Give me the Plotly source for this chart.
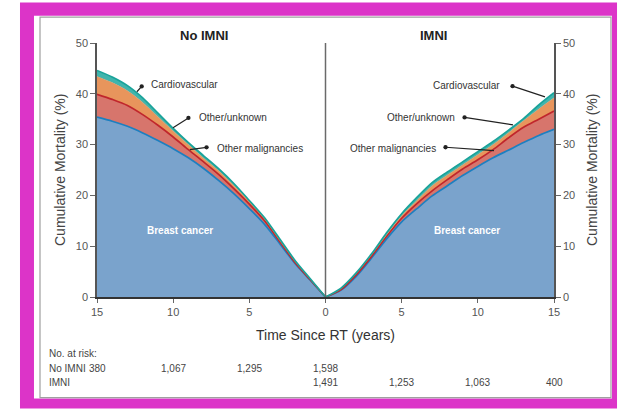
import plotly.graph_objects as go

# ---------------- data ----------------
years = [0, 1, 2, 3, 4, 5, 6, 7, 8, 9, 10, 11, 12, 13, 14, 15]

# No IMNI (cumulative tops of the stacked bands, %)
no_imni_breast = [0, 3.3, 6.6, 10.5, 14.3, 17.4, 20.3, 22.9, 25.3, 27.4, 29.2, 30.8, 32.3, 33.6, 34.6, 35.4]
no_imni_other_malig = [0, 3.4, 6.8, 10.9, 15.0, 18.3, 21.3, 24.1, 26.6, 29.0, 31.5, 33.8, 35.9, 37.7, 38.9, 39.9]
no_imni_other_unknown = [0, 3.5, 7.0, 11.1, 15.4, 18.8, 21.9, 24.8, 27.3, 30.0, 32.7, 35.5, 38.3, 40.6, 42.2, 43.4]
no_imni_cardio = [0, 3.6, 7.2, 11.4, 15.6, 19.0, 22.3, 25.2, 27.8, 30.4, 33.2, 36.2, 39.2, 41.6, 43.3, 44.6]

# IMNI
imni_breast = [0, 1.3, 4.0, 7.6, 11.4, 14.8, 17.4, 19.9, 21.9, 23.9, 25.7, 27.4, 28.9, 30.4, 31.8, 33.0]
imni_other_malig = [0, 1.4, 4.3, 7.9, 11.9, 15.5, 18.4, 20.9, 23.1, 25.2, 27.0, 29.0, 31.3, 33.4, 35.0, 36.6]
imni_other_unknown = [0, 1.6, 4.6, 8.2, 12.2, 16.0, 19.0, 21.9, 24.0, 26.0, 28.0, 30.0, 32.3, 34.7, 37.0, 39.2]
imni_cardio = [0, 1.7, 4.7, 8.4, 12.6, 16.4, 19.6, 22.5, 24.6, 26.6, 28.6, 30.6, 32.8, 35.1, 37.8, 40.2]

x_tick_vals = [-15, -10, -5, 0, 5, 10, 15]
x_tick_text = ["15", "10", "5", "0", "5", "10", "15"]
y_tick_vals = [0, 10, 20, 30, 40, 50]

risk_years_no_imni = [15, 10, 5, 0]
risk_no_imni = ["380", "1,067", "1,295", "1,598"]
risk_years_imni = [0, 5, 10, 15]
risk_imni = ["1,491", "1,253", "1,063", "400"]

cause_names = ["Breast cancer", "Other malignancies", "Other/unknown", "Cardiovascular"]

# ---------------- styles ----------------
fill_colors = ["#7aa3cc", "#d7756c", "#e8955c", "#40b5ad"]
line_colors = ["#1d7fc0", "#c0262c", "#e8955c", "#1aa39a"]
line_widths = [1.7, 1.7, 0.5, 1.7]
BASE = "Liberation Sans, Arial"

fig = go.Figure()

left_series = [no_imni_breast, no_imni_other_malig, no_imni_other_unknown, no_imni_cardio]
right_series = [imni_breast, imni_other_malig, imni_other_unknown, imni_cardio]

for i, (name, ys) in enumerate(zip(cause_names, left_series)):
    fig.add_trace(go.Scatter(
        x=[-t for t in years], y=ys, mode="lines", name=name,
        fill="tozeroy" if i == 0 else "tonexty", fillcolor=fill_colors[i],
        line=dict(color=line_colors[i], width=line_widths[i], shape="spline", smoothing=0.8),
        showlegend=False, hoverinfo="skip", xaxis="x", yaxis="y"))

for i, (name, ys) in enumerate(zip(cause_names, right_series)):
    fig.add_trace(go.Scatter(
        x=years, y=ys, mode="lines", name=name,
        fill="tozeroy" if i == 0 else "tonexty", fillcolor=fill_colors[i],
        line=dict(color=line_colors[i], width=line_widths[i], shape="spline", smoothing=0.8),
        showlegend=False, hoverinfo="skip", xaxis="x", yaxis="y2"))

# ---------------- frame shapes ----------------
shapes = [
    dict(type="rect", xref="paper", yref="paper", x0=-0.1685, x1=1.1379, y0=-0.4392, y1=1.159,
         fillcolor="#dc34c8", line=dict(width=0), layer="below"),
    dict(type="rect", xref="paper", yref="paper", x0=-0.1379, x1=1.1269, y0=-0.3998, y1=1.1077,
         fillcolor="white", line=dict(width=0), layer="below"),
    dict(type="rect", xref="paper", yref="paper", x0=-0.1247, x1=1.1247, y0=-0.3958, y1=1.1018,
         fillcolor="rgba(0,0,0,0)", line=dict(color="#a0a0a0", width=1.2), layer="below"),
    dict(type="line", xref="x", yref="y", x0=0, x1=0, y0=0, y1=50,
         line=dict(color="#6a6a6a", width=1.5), layer="above"),
]

ann = []
# panel titles
ann.append(dict(x=-8.0, y=1.0, xref="x", yref="paper", text="<b>No IMNI</b>", showarrow=False,
                font=dict(family=BASE, size=13, color="#222"), yanchor="bottom", yshift=-2))
ann.append(dict(x=7.06, y=1.0, xref="x", yref="paper", text="<b>IMNI</b>", showarrow=False,
                font=dict(family=BASE, size=13, color="#222"), yanchor="bottom", yshift=-2))

# cause labels
lab_font = dict(family=BASE, size=10, color="#333")
left_labels = [("Cardiovascular", -11.59, 41.8), ("Other/unknown", -8.44, 35.4), ("Other malignancies", -7.26, 29.3)]
right_labels = [("Cardiovascular", 11.59, 41.6), ("Other/unknown", 8.63, 35.4), ("Other malignancies", 7.39, 29.3)]
for txt, xx, yy in left_labels:
    ann.append(dict(x=xx, y=yy, xref="x", yref="y", text=txt, showarrow=False, xanchor="left",
                    yanchor="middle", font=lab_font))
for txt, xx, yy in right_labels:
    ann.append(dict(x=xx, y=yy, xref="x", yref="y", text=txt, showarrow=False, xanchor="right",
                    yanchor="middle", font=lab_font))

# leader lines with dots (tail dot near the label, tip on the curve)
leaders = [
    ((-12.38, 40.4), (-11.98, 41.75)),
    ((-10.01, 33.3), (-8.90, 35.44)),
    ((-8.90, 29.0), (-7.71, 29.5)),
    ((14.41, 39.4), (12.18, 41.6)),
    ((12.31, 33.9), (9.03, 35.4)),
    ((11.06, 28.8), (7.78, 29.5)),
]
for (tx, ty), (dx, dy) in leaders:
    ann.append(dict(x=tx, y=ty, ax=dx, ay=dy, xref="x", yref="y", axref="x", ayref="y",
                    text="", showarrow=True, arrowhead=0, arrowside="start", startarrowhead=6,
                    startarrowsize=0.9, arrowwidth=1.2, arrowcolor="#222", standoff=0, startstandoff=0))

# breast cancer labels
for xx in (-9.55, 9.3):
    ann.append(dict(x=xx, y=13.1, xref="x", yref="y", text="<b>Breast cancer</b>", showarrow=False,
                    yanchor="middle", font=dict(family=BASE, size=10, color="white")))

# axis titles
ann.append(dict(x=0, y=(296.7 - 335) / 253.4, xref="x", yref="paper", text="Time Since RT (years)",
                showarrow=False, font=dict(family=BASE, size=14, color="#333"),
                xanchor="center", yanchor="middle"))
ann.append(dict(x=(60 - 97) / 457.0, y=0.5, xref="paper", yref="paper", text="Cumulative Mortality (%)",
                showarrow=False, textangle=-90, xanchor="center", yanchor="middle",
                font=dict(family=BASE, size=14, color="#444")))
ann.append(dict(x=(592 - 97) / 457.0, y=0.5, xref="paper", yref="paper", text="Cumulative Mortality (%)",
                showarrow=False, textangle=-90, xanchor="center", yanchor="middle",
                font=dict(family=BASE, size=14, color="#444")))

# number at risk table
tab_font = dict(family=BASE, size=10, color="#444")
px_x0 = (47 - 97) / 457.0
row_y = [(296.7 - 353) / 253.4, (296.7 - 368) / 253.4, (296.7 - 382) / 253.4]
for txt, yy in zip(["No. at risk:", "No IMNI", "IMNI"], row_y):
    ann.append(dict(x=px_x0, y=yy, xref="paper", yref="paper", text=txt,
                    showarrow=False, xanchor="left", yanchor="middle", font=tab_font))
for t, v in zip(risk_years_no_imni, risk_no_imni):
    ann.append(dict(x=-t if t else 0, y=row_y[1], xref="x", yref="paper", text=v,
                    showarrow=False, xanchor="center", yanchor="middle", font=tab_font))
for t, v in zip(risk_years_imni, risk_imni):
    ann.append(dict(x=t, y=row_y[2], xref="x", yref="paper", text=v,
                    showarrow=False, xanchor="center", yanchor="middle", font=tab_font))

axis_font = dict(family=BASE, size=11, color="#555")
fig.update_layout(
    width=619, height=409,
    margin=dict(l=97, r=65, t=43, b=112),
    paper_bgcolor="white", plot_bgcolor="rgba(0,0,0,0)",
    shapes=shapes, annotations=ann,
    xaxis=dict(range=[-15, 15], tickvals=x_tick_vals, ticktext=x_tick_text, showgrid=False,
               zeroline=False, showline=True, linecolor="#333", linewidth=1.5, ticks="outside",
               ticklen=4, tickcolor="#666", tickfont=axis_font, fixedrange=True),
    yaxis=dict(range=[0, 50], tickvals=y_tick_vals, showgrid=False, zeroline=False, showline=True,
               linecolor="#555", linewidth=1.5, ticks="outside", ticklen=5, tickcolor="#666",
               tickfont=axis_font, fixedrange=True),
    yaxis2=dict(range=[0, 50], tickvals=y_tick_vals, overlaying="y", side="right", showgrid=False,
                zeroline=False, showline=True, linecolor="#555", linewidth=1.5, ticks="outside",
                ticklen=5, tickcolor="#666", tickfont=axis_font, fixedrange=True),
    showlegend=False,
)

fig.write_html("out.html")
